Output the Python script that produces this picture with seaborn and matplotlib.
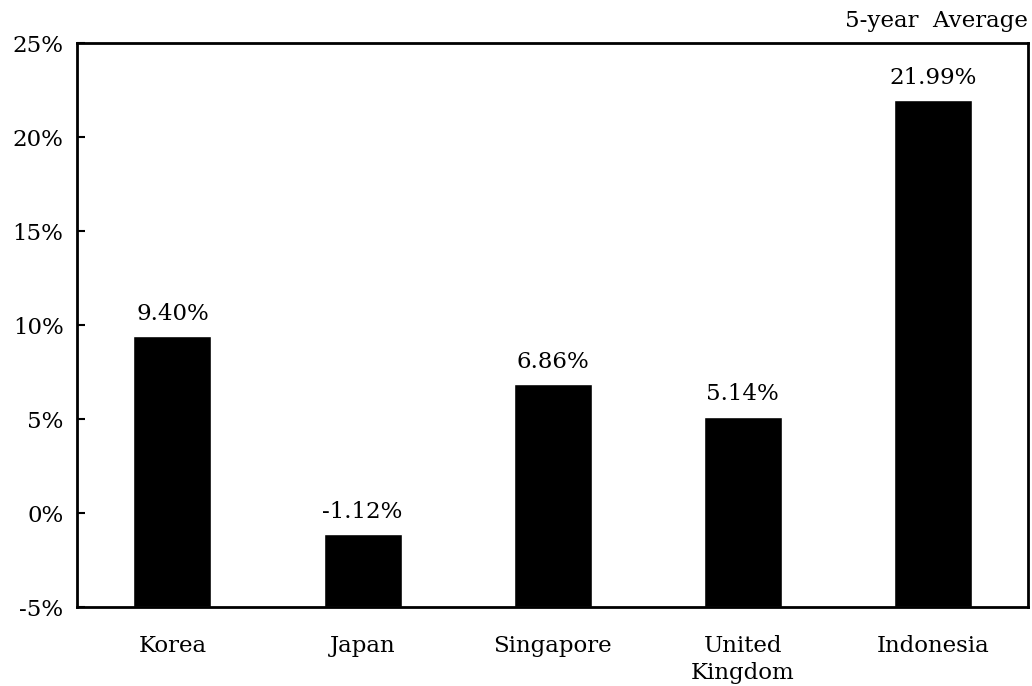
import matplotlib
matplotlib.use("Agg")
import matplotlib.pyplot as plt
import seaborn as sns
import pandas as pd

# data
countries = ["Korea", "Japan", "Singapore", "United\nKingdom", "Indonesia"]
returns = [9.40, -1.12, 6.86, 5.14, 21.99]
y_ticks = [-5, 0, 5, 10, 15, 20, 25]
floor = -5

sns.set_theme(style="white")
plt.rcParams["font.family"] = ["DejaVu Serif"]
plt.rcParams["text.color"] = "black"
plt.rcParams["xtick.color"] = "black"
plt.rcParams["ytick.color"] = "black"

df = pd.DataFrame({"country": countries, "ret": returns})
df["height"] = df["ret"] - floor

fig, ax = plt.subplots(figsize=(10.32, 6.86), dpi=100)
fig.subplots_adjust(left=0.075, right=0.996, top=0.937, bottom=0.115)

sns.barplot(data=df, x="country", y="height", color="black", width=0.41,
            bottom=floor, saturation=1, ax=ax)

fs = 16.5
for i, v in enumerate(returns):
    ax.text(i, v + 0.6, f"{v:.2f}%", ha="center", va="bottom", fontsize=fs)

ax.set_ylim(-5, 25)
ax.set_xlim(-0.5, 4.5)
ax.set_yticks(y_ticks)
ax.set_yticklabels([f"{t}%" for t in y_ticks], fontsize=fs)
ax.set_xticks(range(len(countries)))
ax.set_xticklabels(countries, fontsize=fs, linespacing=1.3)
ax.set_xticks([0.5, 1.5, 2.5, 3.5], minor=True)
ax.tick_params(axis="x", which="major", length=0, pad=20)
ax.tick_params(axis="x", which="minor", direction="in", length=4, width=1.2, color="black")
ax.tick_params(axis="y", direction="in", length=6, width=1.5, color="black", left=True, pad=10)
ax.set_xlabel("")
ax.set_ylabel("")

for s in ax.spines.values():
    s.set_visible(True)
    s.set_color("black")
    s.set_linewidth(2)

ax.text(1.0, 1.02, "5-year  Average", transform=ax.transAxes, ha="right",
        va="bottom", fontsize=fs)

fig.savefig("out.png", dpi=100)
